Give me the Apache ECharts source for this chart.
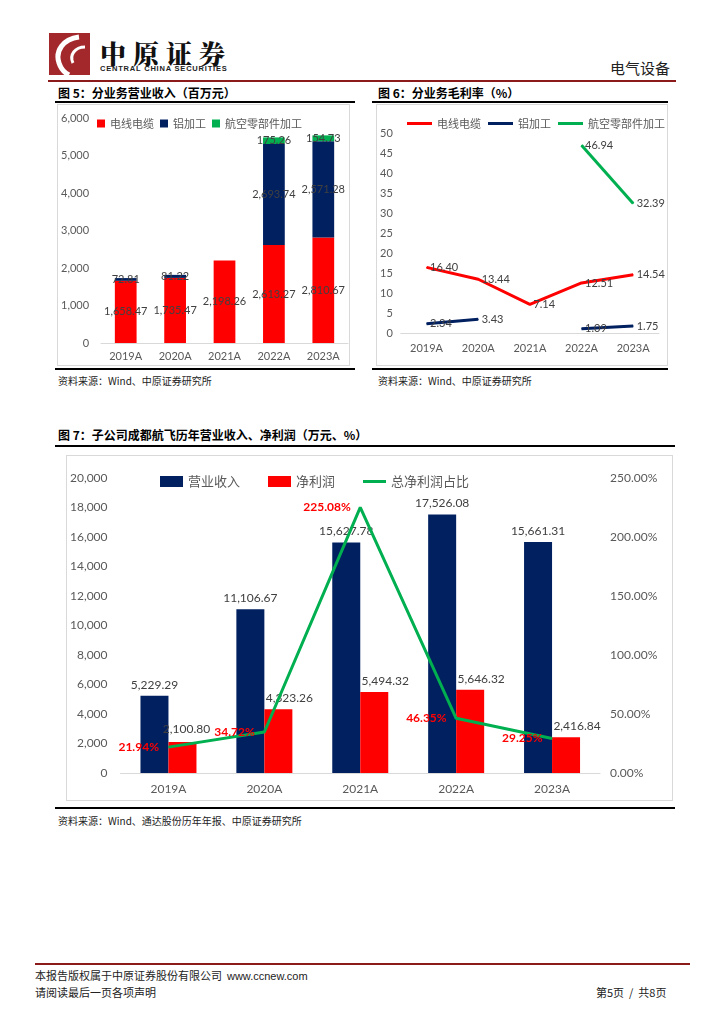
<!DOCTYPE html>
<html><head><meta charset="utf-8">
<script src="https://cdn.jsdelivr.net/npm/echarts@6/dist/echarts.min.js"></script>
<style>
body{margin:0;width:724px;height:1024px;position:relative;background:#fff;font-family:'Noto Sans CJK SC',sans-serif;overflow:hidden}
.abs{position:absolute}
.title{font-weight:bold;font-size:12px;color:#000;white-space:nowrap}
.src{font-size:10px;color:#222;white-space:nowrap}
.box{border:1px solid #d9d9d9;box-sizing:border-box}
</style></head><body>
<!-- header -->
<div class="abs" style="left:49px;top:33px;width:41px;height:42px;background:#a3282b;overflow:hidden">
<svg width="41" height="42"><path d="M30 4 C14 6 6 18 10 30 C12 36 16 40 20 42" stroke="#fff" stroke-width="5" fill="none"/><path d="M36 14 C26 14 20 22 24 30" stroke="#fff" stroke-width="3" fill="none"/></svg></div>
<div class="abs" style="left:100px;top:34px;font-size:26px;font-weight:900;letter-spacing:7px;color:#111;font-family:'Noto Serif CJK SC','Noto Sans CJK SC',serif">中原证券</div>
<div class="abs" style="left:100px;top:64px;font-size:7.5px;font-weight:bold;color:#222;font-family:'Liberation Sans',sans-serif;white-space:nowrap;letter-spacing:0.8px">CENTRAL CHINA SECURITIES</div>
<div class="abs" style="left:610px;top:57px;font-size:15px;color:#222">电气设备</div>
<div class="abs" style="left:48px;top:80px;width:628px;height:2px;background:#8b1a1a"></div>

<!-- fig 5 -->
<div class="abs title" style="left:58px;top:84px">图 5：分业务营业收入（百万元）</div>
<div class="abs" style="left:55px;top:101px;width:300px;height:2px;background:#000"></div>
<div id="c5" class="abs box" style="left:57px;top:104px;width:293px;height:262px"></div>
<div class="abs" style="left:55px;top:368px;width:300px;height:2px;background:#000"></div>
<div class="abs src" style="left:58px;top:373px">资料来源：Wind、中原证券研究所</div>

<!-- fig 6 -->
<div class="abs title" style="left:378px;top:84px">图 6：分业务毛利率（%）</div>
<div class="abs" style="left:372px;top:101px;width:296px;height:2px;background:#000"></div>
<div id="c6" class="abs box" style="left:376px;top:104px;width:292px;height:262px"></div>
<div class="abs" style="left:372px;top:368px;width:296px;height:2px;background:#000"></div>
<div class="abs src" style="left:378px;top:373px">资料来源：Wind、中原证券研究所</div>

<!-- fig 7 -->
<div class="abs title" style="left:58px;top:426px">图 7：子公司成都航飞历年营业收入、净利润（万元、%）</div>
<div class="abs" style="left:55px;top:445px;width:620px;height:2px;background:#000"></div>
<div id="c7" class="abs box" style="left:66px;top:455px;width:607px;height:346px"></div>
<div class="abs" style="left:55px;top:807px;width:620px;height:2px;background:#000"></div>
<div class="abs src" style="left:58px;top:813px">资料来源：Wind、通达股份历年年报、中原证券研究所</div>

<!-- footer -->
<div class="abs" style="left:35px;top:963px;width:655px;height:2px;background:#8b1a1a"></div>
<div class="abs src" style="left:35px;top:967px;font-size:11px">本报告版权属于中原证券股份有限公司 &nbsp;<span style="font-family:'Liberation Sans',sans-serif">www.ccnew.com</span></div>
<div class="abs src" style="left:35px;top:984px;font-size:11px">请阅读最后一页各项声明</div>
<div class="abs src" style="left:596px;top:984px;font-size:11px">第5页 &nbsp;/ &nbsp;共8页</div>

<script>
// ---- data ----
const years = ['2019A','2020A','2021A','2022A','2023A'];
// Fig 5: revenue by segment (百万元)
const cable = [1658.47, 1735.47, 2198.26, 2613.27, 2810.67];
const aluminum = [72.81, 81.22, null, 2693.74, 2571.28];
const aero = [null, null, null, 175.26, 154.73];
// Fig 6: gross margin (%)
const gmCable = [16.40, 13.44, 7.14, 12.51, 14.54];
const gmAluminum = [2.34, 3.43, null, 1.09, 1.75];
const gmAero = [null, null, null, 46.94, 32.39];
// Fig 7: subsidiary revenue & net profit (万元), share (%)
const revenue = [5229.29, 11106.67, 15627.78, 17526.08, 15661.31];
const netProfit = [2100.80, 4323.26, 5494.32, 5646.32, 2416.84];
const profitShare = [21.94, 34.72, 225.08, 46.35, 29.25];

const RED='#FF0000', NAVY='#002060', GREEN='#00B050', GRAY='#595959', LBL='#404040';
const FONT="Lato, 'Noto Sans CJK SC', sans-serif";
const fmt = v => Number(v).toLocaleString('en-US',{minimumFractionDigits:2,maximumFractionDigits:2});
const fmtInt = v => Number(v).toLocaleString('en-US');

// ---- Fig 5 ----
const c5 = echarts.init(document.getElementById('c5'));
const seg = (name, data, color) => ({
  name, type:'bar', stack:'a', data, barWidth:'44%',
  itemStyle:{color},
  label:{show:true, position:'inside', color:LBL, fontSize:11, fontFamily:FONT,
    formatter:p => p.value==null?'':fmt(p.value)}
});
c5.setOption({
  animation:false,
  textStyle:{fontFamily:FONT},
  legend:{left:34, top:8, itemWidth:8, itemHeight:8, itemGap:6,
    textStyle:{color:GRAY, fontSize:11, fontFamily:"'Noto Sans CJK SC',sans-serif"},
    data:[{name:'电线电缆',icon:'rect'},{name:'铝加工',icon:'rect'},{name:'航空零部件加工',icon:'rect'}]},
  grid:{left:41, right:1, top:13, bottom:22},
  xAxis:{type:'category', data:years, axisTick:{show:false},
    axisLine:{lineStyle:{color:'#d9d9d9'}},
    axisLabel:{color:GRAY, fontSize:11, margin:8}},
  yAxis:{type:'value', min:0, max:6000, interval:1000, splitLine:{show:false},
    axisLabel:{color:GRAY, fontSize:11, margin:12, formatter:fmtInt}},
  series:[seg('电线电缆',cable,RED), seg('铝加工',aluminum,NAVY), seg('航空零部件加工',aero,GREEN)]
});

// ---- Fig 6 ----
const c6 = echarts.init(document.getElementById('c6'));
const ln = (name, data, color) => ({
  name, type:'line', data, symbol:'circle', symbolSize:1, showSymbol:true,
  lineStyle:{color, width:3}, itemStyle:{color},
  label:{show:true, position:'right', distance:3, color:LBL, fontSize:11, fontFamily:FONT,
    formatter:p => p.value==null?'':Number(p.value).toFixed(2)}
});
c6.setOption({
  animation:false,
  textStyle:{fontFamily:FONT},
  legend:{left:30, top:13, padding:0, itemWidth:25, itemHeight:3, itemGap:7,
    textStyle:{color:GRAY, fontSize:11, fontFamily:"'Noto Sans CJK SC',sans-serif"},
    data:[{name:'电线电缆',icon:'rect'},{name:'铝加工',icon:'rect'},{name:'航空零部件加工',icon:'rect'}]},
  grid:{left:22, right:8, top:28, bottom:32},
  xAxis:{type:'category', data:years, axisTick:{show:false},
    axisLine:{lineStyle:{color:'#d9d9d9'}},
    axisLabel:{color:GRAY, fontSize:11, margin:10}},
  yAxis:{type:'value', min:0, max:50, interval:5, splitLine:{show:false},
    axisLabel:{color:GRAY, fontSize:11, margin:8}},
  series:[ln('电线电缆',gmCable,RED), ln('铝加工',gmAluminum,NAVY), ln('航空零部件加工',gmAero,GREEN)]
});

// ---- Fig 7 ----
const c7 = echarts.init(document.getElementById('c7'));
const npData = netProfit.map((v,i)=> i===0 ? {value:v, label:{offset:[4,-2]}} : v);
c7.setOption({
  animation:false,
  textStyle:{fontFamily:FONT},
  legend:{left:88, top:14, itemWidth:23, itemHeight:11, itemGap:28, symbolKeepAspect:true,
    textStyle:{color:GRAY, fontSize:13, fontFamily:"'Noto Sans CJK SC',sans-serif"},
    data:[{name:'营业收入',icon:'rect'},{name:'净利润',icon:'rect'},
          {name:'总净利润占比',icon:'path://M0,0 L23,0 L23,3 L0,3 Z'}]},
  grid:{left:52, right:72, top:22, bottom:27},
  xAxis:{type:'category', data:years, axisTick:{show:false},
    axisLine:{lineStyle:{color:'#d9d9d9'}},
    axisLabel:{color:GRAY, fontSize:12, margin:10}},
  yAxis:[
    {type:'value', min:0, max:20000, interval:2000, splitLine:{show:false},
     axisLabel:{color:GRAY, fontSize:12, margin:13, formatter:fmtInt}},
    {type:'value', min:0, max:250, interval:50, splitLine:{show:false},
     axisLabel:{color:GRAY, fontSize:12, margin:10, formatter:v=>v.toFixed(2)+'%'}}
  ],
  series:[
    {name:'营业收入', type:'bar', data:revenue, barWidth:28, barGap:'0%', itemStyle:{color:NAVY},
     label:{show:true, position:'top', distance:5, color:LBL, fontSize:12, formatter:p=>fmt(p.value)}},
    {name:'净利润', type:'bar', data:npData, barWidth:28, itemStyle:{color:RED},
     label:{show:true, position:'top', distance:5, offset:[11,0], color:LBL, fontSize:12, formatter:p=>fmt(p.value)}},
    {name:'总净利润占比', type:'line', yAxisIndex:1, data:profitShare, symbol:'none',
     lineStyle:{color:GREEN, width:3}, itemStyle:{color:GREEN}, z:3},
    {name:'占比标签', type:'line', yAxisIndex:1, data:profitShare, symbol:'circle', symbolSize:1,
     showSymbol:true, lineStyle:{width:0, opacity:0}, itemStyle:{color:GREEN}, z:4,
     label:{show:true, position:'left', distance:9, color:RED, fontWeight:'bold', fontSize:12,
       formatter:p=>p.value.toFixed(2)+'%'}}
  ]
});
</script>
</body></html>
